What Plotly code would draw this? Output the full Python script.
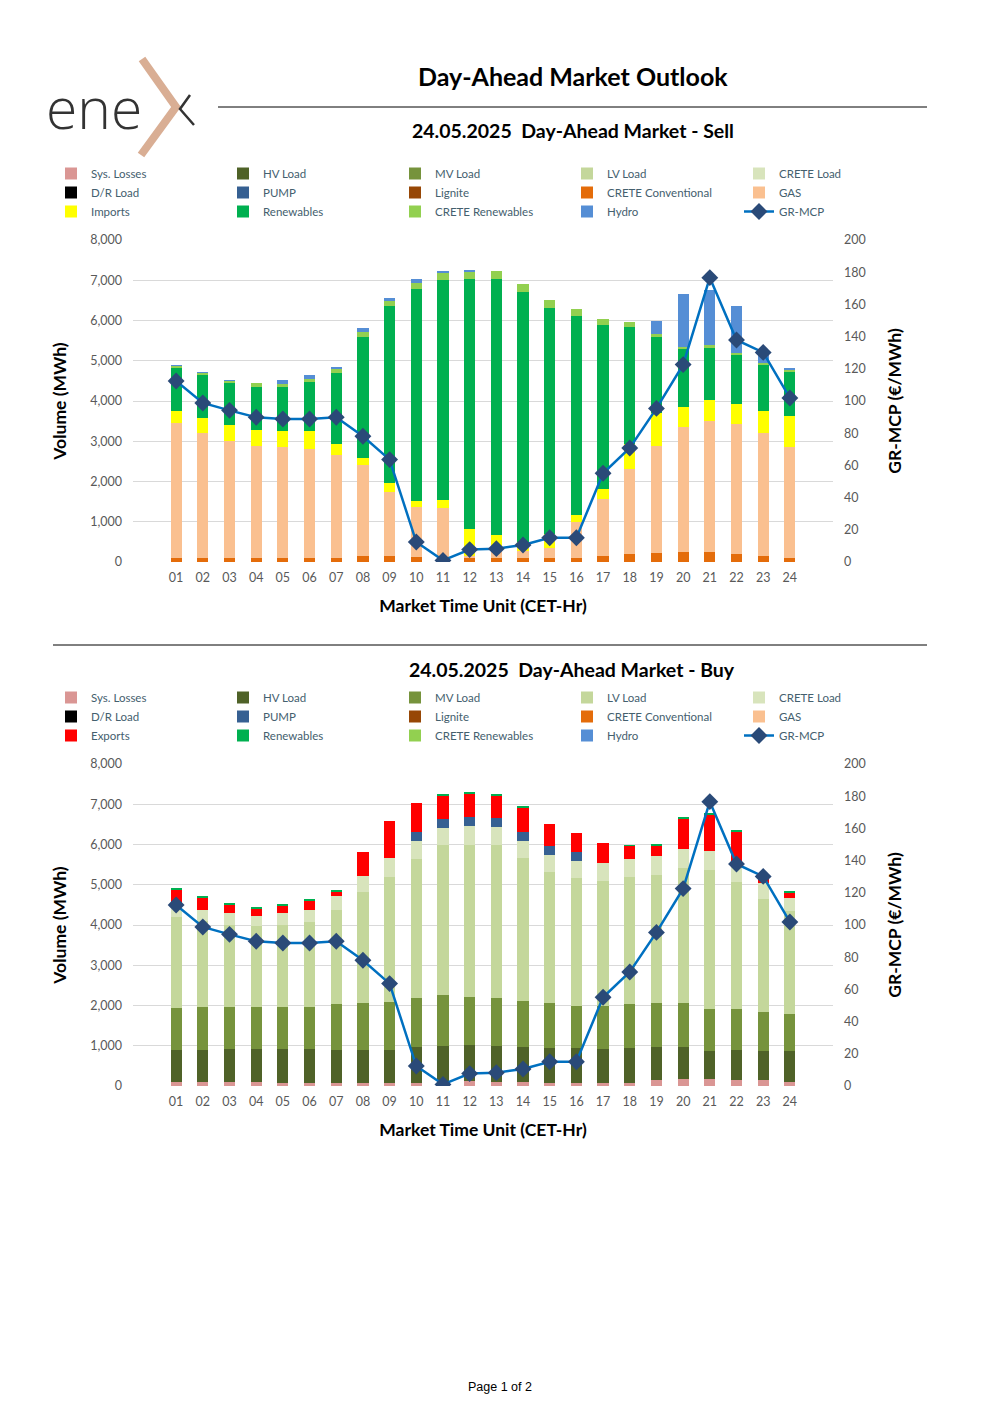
import plotly.graph_objects as go

# Page is 1000 x 1415; the browser adds an 8 px body margin, so the figure is
# drawn 8 px smaller and all page coordinates are shifted by that offset.
PAGE_W, PAGE_H = 1000, 1415
OFF = 8
W, H = PAGE_W - OFF, PAGE_H - OFF

HOURS = ['01', '02', '03', '04', '05', '06', '07', '08', '09', '10', '11', '12',
         '13', '14', '15', '16', '17', '18', '19', '20', '21', '22', '23', '24']

ZERO = [0, 0, 0, 0, 0, 0, 0, 0, 0, 0, 0, 0, 0, 0, 0, 0, 0, 0, 0, 0, 0, 0, 0, 0]

# ---------------- SELL side (MWh) ----------------
SELL_CRETE_CONV = [100, 90, 90, 90, 90, 107, 107, 140, 140, 124, 107, 107,
                   107, 107, 107, 107, 140, 190, 223, 240, 240, 190, 157, 107]
SELL_GAS = [3350, 3127, 2921, 2780, 2755, 2689, 2540, 2259, 1605, 1232, 1225, 40,
            158, 158, 232, 877, 1415, 2126, 2664, 3110, 3267, 3251, 3060, 2755]
SELL_IMPORTS = [290, 364, 397, 422, 414, 463, 281, 182, 224, 166, 215, 680,
                405, 240, 356, 191, 248, 612, 827, 513, 529, 496, 538, 777]
SELL_RENEWABLES = [1083, 1076, 1050, 1067, 1100, 1216, 1778, 3019, 4383, 5269, 5459, 6204,
                   6361, 6203, 5624, 4937, 4078, 2920, 1886, 1422, 1291, 1208, 1150, 1084]
SELL_CRETE_REN = [50, 58, 58, 83, 66, 74, 91, 115, 124, 140, 165, 173,
                  206, 198, 191, 166, 149, 116, 66, 58, 58, 49, 50, 50]
SELL_HYDRO = [10, 5, 5, 0, 91, 91, 58, 100, 91, 100, 50, 50,
              0, 0, 0, 0, 0, 0, 331, 1315, 1373, 1158, 230, 57]

# ---------------- BUY side (MWh) ----------------
BUY_SYS_LOSSES = [100, 100, 100, 100, 83, 66, 75, 66, 66, 83, 108, 124,
                  108, 100, 83, 66, 66, 83, 149, 174, 174, 149, 141, 100]
BUY_HV_LOAD = [796, 796, 829, 820, 837, 846, 829, 838, 838, 879, 887, 896,
               895, 878, 862, 871, 854, 871, 821, 788, 697, 755, 738, 771]
BUY_MV_LOAD = [1036, 1077, 1044, 1045, 1053, 1061, 1128, 1169, 1194, 1219, 1260, 1202,
               1194, 1136, 1111, 1053, 1070, 1086, 1095, 1103, 1053, 1011, 962, 920]
BUY_LV_LOAD = [2255, 2115, 2032, 1999, 2032, 2090, 2330, 2736, 3101, 3466, 3723, 3765,
               3781, 3558, 3267, 3176, 3110, 3159, 3184, 3358, 3449, 3160, 2811, 2546]
BUY_CRETE_LOAD = [299, 282, 282, 265, 282, 299, 348, 398, 464, 439, 423, 472,
                  448, 423, 415, 414, 431, 448, 456, 464, 456, 381, 381, 323]
BUY_PUMP = [0, 0, 0, 0, 0, 0, 0, 0, 0, 224, 224, 233,
            224, 223, 232, 224, 0, 0, 0, 0, 0, 0, 0, 0]
BUY_EXPORTS = [406, 315, 224, 191, 207, 257, 116, 614, 913, 730, 581, 563,
               572, 597, 547, 481, 505, 323, 282, 755, 912, 871, 133, 158]
BUY_RENEWABLES = [33, 33, 25, 24, 25, 24, 33, 0, 0, 0, 33, 25,
                  33, 17, 0, 0, 0, 17, 25, 33, 34, 33, 0, 24]

# ---------------- Price (EUR/MWh) ----------------
GR_MCP = [112.4, 98.8, 94.2, 89.9, 88.8, 88.8, 89.9, 78.1, 63.6, 12.4, 1.0, 7.7,
          8.3, 10.6, 15.1, 15.1, 55.1, 70.8, 95.4, 122.6, 176.6, 137.9, 130.2, 101.9]

Y_TICKS = [0, 1000, 2000, 3000, 4000, 5000, 6000, 7000, 8000]
Y2_TICKS = [0, 20, 40, 60, 80, 100, 120, 140, 160, 180, 200]

COLORS = {
    'Sys. Losses': '#DA9694', 'HV Load': '#4F6228', 'MV Load': '#76933C',
    'LV Load': '#C4D79B', 'CRETE Load': '#D8E4BC', 'D/R Load': '#000000',
    'PUMP': '#366092', 'Lignite': '#974706', 'CRETE Conventional': '#E46C0A',
    'GAS': '#FAC090', 'Imports': '#FFFF00', 'Exports': '#FF0000',
    'Renewables': '#00B050', 'CRETE Renewables': '#92D050', 'Hydro': '#558ED5',
}

sell_series = [
    ('Sys. Losses', ZERO), ('HV Load', ZERO), ('MV Load', ZERO), ('LV Load', ZERO),
    ('CRETE Load', ZERO), ('D/R Load', ZERO), ('PUMP', ZERO), ('Lignite', ZERO),
    ('CRETE Conventional', SELL_CRETE_CONV), ('GAS', SELL_GAS), ('Imports', SELL_IMPORTS),
    ('Renewables', SELL_RENEWABLES), ('CRETE Renewables', SELL_CRETE_REN), ('Hydro', SELL_HYDRO),
]
buy_series = [
    ('Sys. Losses', BUY_SYS_LOSSES), ('HV Load', BUY_HV_LOAD), ('MV Load', BUY_MV_LOAD),
    ('LV Load', BUY_LV_LOAD), ('CRETE Load', BUY_CRETE_LOAD), ('D/R Load', ZERO),
    ('PUMP', BUY_PUMP), ('Lignite', ZERO), ('CRETE Conventional', ZERO), ('GAS', ZERO),
    ('Exports', BUY_EXPORTS), ('Renewables', BUY_RENEWABLES), ('CRETE Renewables', ZERO),
    ('Hydro', ZERO),
]

FONT = 'Lato'
TICK_COLOR = '#595959'
LEG_COLOR = '#44606E'


def px(x):
    return (x - OFF) / W


def py(y):
    return 1 - (y - OFF) / H


fig = go.Figure()

for name, vals in sell_series:
    fig.add_trace(go.Bar(x=HOURS, y=vals, name=name, marker_color=COLORS[name],
                         marker_line_width=0, xaxis='x', yaxis='y', legend='legend'))
fig.add_trace(go.Scatter(x=HOURS, y=GR_MCP, name='GR-MCP', mode='lines+markers',
                         line=dict(color='#0070C0', width=2.5),
                         marker=dict(symbol='diamond', size=13, color='#2A4A78'),
                         xaxis='x', yaxis='y3', legend='legend'))

for name, vals in buy_series:
    fig.add_trace(go.Bar(x=HOURS, y=vals, name=name, marker_color=COLORS[name],
                         marker_line_width=0, xaxis='x2', yaxis='y2', legend='legend2'))
fig.add_trace(go.Scatter(x=HOURS, y=GR_MCP, name='GR-MCP', mode='lines+markers',
                         line=dict(color='#0070C0', width=2.5),
                         marker=dict(symbol='diamond', size=13, color='#2A4A78'),
                         xaxis='x2', yaxis='y4', legend='legend2'))

xdom = [px(133), px(833)]
sell_dom = [py(562), py(240)]
buy_dom = [py(1086), py(764)]

tickfont = dict(family=FONT, size=12.5, color=TICK_COLOR)
titlefont = dict(family=FONT, size=17.5, color='#000000', weight='bold')

xcommon = dict(type='category', showgrid=False, zeroline=False, showline=False,
               automargin=False, tickfont=tickfont, ticks='', ticklabelstandoff=6,
               title=dict(text='Market Time Unit (CET-Hr)', font=titlefont, standoff=16))
ycommon = dict(range=[0, 8000], tickvals=Y_TICKS, tickformat=',d', showgrid=True,
               gridcolor='#D9D9D9', gridwidth=1, zeroline=False, showline=False,
               automargin=False, tickfont=tickfont, ticks='', ticklabelstandoff=10,
               title=dict(text='Volume (MWh)', font=titlefont, standoff=19))
y2common = dict(range=[0, 200], tickvals=Y2_TICKS, showgrid=False, zeroline=False,
                showline=False, side='right', automargin=False, tickfont=tickfont,
                ticks='', ticklabelstandoff=10,
                title=dict(text='GR-MCP (€/MWh)', font=titlefont, standoff=23))

legcommon = dict(orientation='h', xanchor='left', yanchor='top', entrywidth=127,
                 entrywidthmode='pixels', font=dict(family=FONT, size=11.5, color=LEG_COLOR),
                 bgcolor='rgba(0,0,0,0)', traceorder='normal', itemwidth=30,
                 tracegroupgap=0)

fig.update_layout(
    template='none',
    width=W, height=H, margin=dict(l=0, r=0, t=0, b=0, pad=0, autoexpand=False),
    paper_bgcolor='white', plot_bgcolor='white',
    barmode='stack', bargap=0.58,
    showlegend=True,
    xaxis=dict(domain=xdom, anchor='y', **xcommon),
    yaxis=dict(domain=sell_dom, anchor='x', **ycommon),
    yaxis3=dict(overlaying='y', anchor='x', **y2common),
    xaxis2=dict(domain=xdom, anchor='y2', **xcommon),
    yaxis2=dict(domain=buy_dom, anchor='x2', **ycommon),
    yaxis4=dict(overlaying='y2', anchor='x2', **y2common),
    legend=dict(x=px(51), y=py(159), **legcommon),
    legend2=dict(x=px(51), y=py(683), **legcommon),
    font=dict(family=FONT),
)

annotations = [
    dict(text='Day-Ahead Market Outlook', x=px(573), y=py(76),
         font=dict(family=FONT, size=25, color='#000000', weight='bold')),
    dict(text='24.05.2025  Day-Ahead Market - Sell', x=px(573), y=py(131),
         font=dict(family=FONT, size=19.5, color='#000000', weight='bold')),
    dict(text='24.05.2025  Day-Ahead Market - Buy', x=px(572), y=py(669),
         font=dict(family=FONT, size=19.5, color='#000000', weight='bold')),
    dict(text='Page 1 of 2', x=px(500), y=py(1387),
         font=dict(family='Liberation Sans', size=12.5, color='#000000')),
    dict(text='ene', x=px(44), y=py(107), xanchor='left',
         font=dict(family='Open Sans', size=57, color='#333333', weight=300)),
]
for a in annotations:
    a.setdefault('xanchor', 'center')
    a.update(xref='paper', yref='paper', yanchor='middle', showarrow=False)
fig.update_layout(annotations=annotations)


def path(points):
    return 'M ' + ' L '.join(f'{px(x):.5f},{py(y):.5f}' for x, y in points)


shapes = [
    dict(type='line', x0=px(218), x1=px(927), y0=py(107), y1=py(107),
         line=dict(color='#000000', width=1)),
    dict(type='line', x0=px(53), x1=px(927), y0=py(645), y1=py(645),
         line=dict(color='#000000', width=1)),
    dict(type='path', path=path([(142, 59), (176, 107), (141, 155)]),
         line=dict(color='#D9AE94', width=8)),
    dict(type='path', path=path([(190, 95), (180, 109), (194, 125)]),
         line=dict(color='#333333', width=2.5)),
]
for s in shapes:
    s.update(xref='paper', yref='paper')
fig.update_layout(shapes=shapes)

fig.write_html('out.html')
